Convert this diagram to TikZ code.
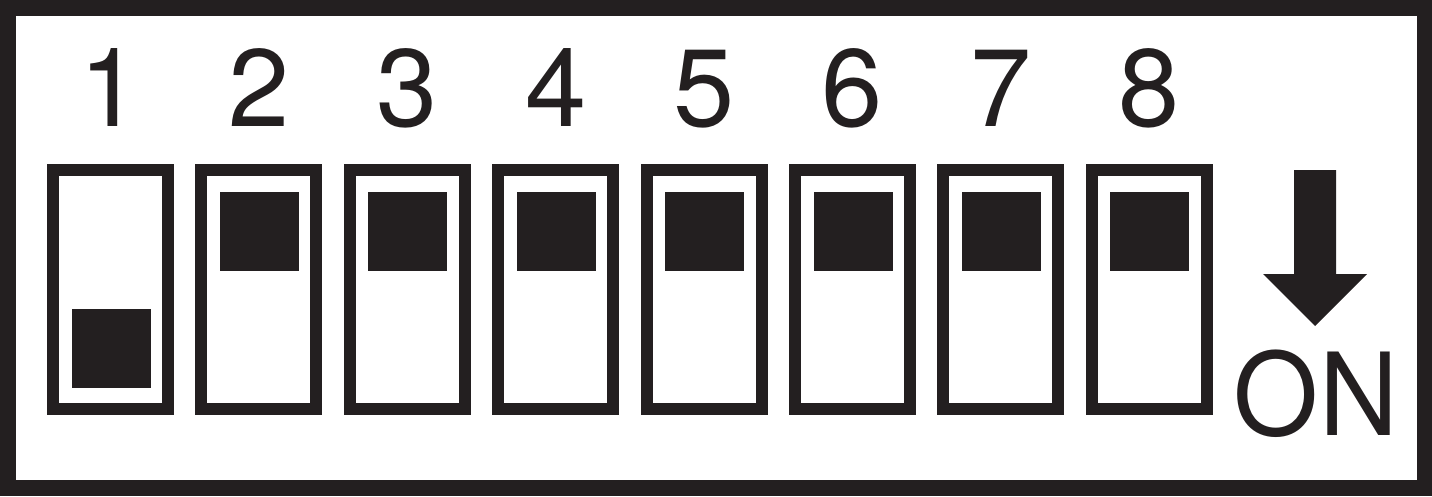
\documentclass[tikz,border=0pt]{standalone}
\usepackage{fontspec}
\setmainfont{TeX Gyre Heros}
\usepackage{tikz}
\definecolor{ink}{HTML}{231F20}
\newcommand{\numfont}{\fontsize{31.3pt}{36pt}\selectfont}
\newcommand{\onfont}{\fontsize{32.6pt}{38pt}\selectfont}

\begin{document}
\begin{tikzpicture}
			%%%%% START %%%%%
			\useasboundingbox (0, 0) rectangle (14.32, 4.96);
			
			\draw[line width=1.6mm, color=ink] (0.08, 0.08) rectangle (14.245, 4.88);
			
			\node[color=ink, anchor=base, inner sep=0] (n1) at (1.105, 3.70) {\numfont 1};
			\node[color=ink, anchor=base, inner sep=0] (n2) at (2.589, 3.70) {\numfont 2};
			\node[color=ink, anchor=base, inner sep=0] (n3) at (4.073, 3.70) {\numfont 3};
			\node[color=ink, anchor=base, inner sep=0] (n4) at (5.557, 3.70) {\numfont 4};
			\node[color=ink, anchor=base, inner sep=0] (n5) at (7.041, 3.70) {\numfont 5};
			\node[color=ink, anchor=base, inner sep=0] (n6) at (8.525, 3.70) {\numfont 6};
			\node[color=ink, anchor=base, inner sep=0] (n7) at (10.009, 3.70) {\numfont 7};
			\node[color=ink, anchor=base, inner sep=0] (n8) at (11.493, 3.70) {\numfont 8};
			
			\draw[line width=1.2mm, color=ink] (0.53, 0.87) rectangle (1.68, 3.26);
			\draw[fill=ink, draw=none] (0.715, 1.08) rectangle (1.505, 1.87);
			
			\draw[line width=1.2mm, color=ink] (2.014, 0.87) rectangle (3.164, 3.26);
			\draw[fill=ink, draw=none] (2.199, 2.25) rectangle (2.989, 3.04);
			
			\draw[line width=1.2mm, color=ink] (3.498, 0.87) rectangle (4.648, 3.26);
			\draw[fill=ink, draw=none] (3.683, 2.25) rectangle (4.473, 3.04);
			
			\draw[line width=1.2mm, color=ink] (4.982, 0.87) rectangle (6.132, 3.26);
			\draw[fill=ink, draw=none] (5.167, 2.25) rectangle (5.957, 3.04);
			
			\draw[line width=1.2mm, color=ink] (6.466, 0.87) rectangle (7.616, 3.26);
			\draw[fill=ink, draw=none] (6.651, 2.25) rectangle (7.441, 3.04);
			
			\draw[line width=1.2mm, color=ink] (7.950, 0.87) rectangle (9.100, 3.26);
			\draw[fill=ink, draw=none] (8.135, 2.25) rectangle (8.925, 3.04);
			
			\draw[line width=1.2mm, color=ink] (9.434, 0.87) rectangle (10.584, 3.26);
			\draw[fill=ink, draw=none] (9.619, 2.25) rectangle (10.409, 3.04);
			
			\draw[line width=1.2mm, color=ink] (10.918, 0.87) rectangle (12.068, 3.26);
			\draw[fill=ink, draw=none] (11.103, 2.25) rectangle (11.893, 3.04);
			
			\draw[fill=ink, draw=none] (12.94, 3.26) -- (13.36, 3.26) -- (13.36, 2.22) -- (13.67, 2.22)
				-- (13.15, 1.70) -- (12.63, 2.22) -- (12.94, 2.22) -- cycle;
			
			\node[color=ink, anchor=base, inner sep=0] (on) at (13.16, 0.61) {\onfont\scalebox{0.955}[1]{ON}};
			
			%%%%% END %%%%%
		\end{tikzpicture}
\end{document}
